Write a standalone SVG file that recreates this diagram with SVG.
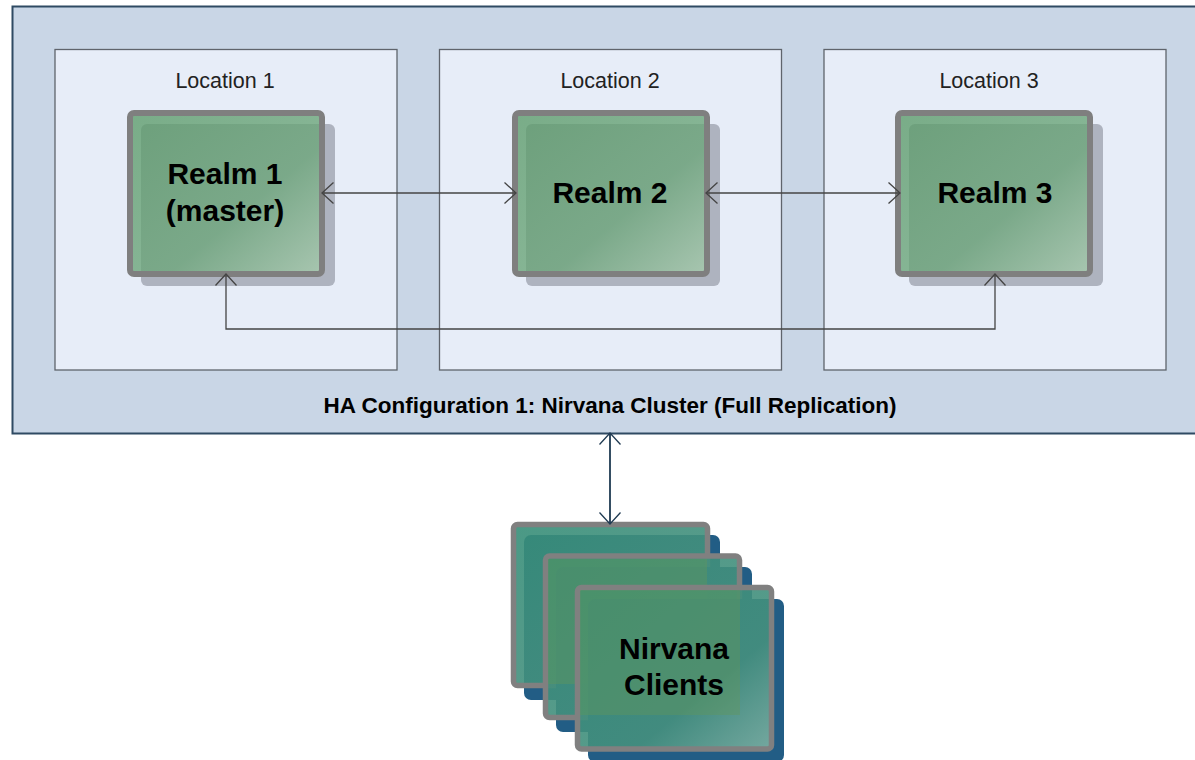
<svg xmlns="http://www.w3.org/2000/svg" width="1195" height="760" viewBox="0 0 1195 760">
<defs>
<linearGradient id="realm" x1="0" y1="0" x2="1" y2="1"><stop offset="0" stop-color="#5a9a68"/><stop offset="0.6" stop-color="#6ca67a"/><stop offset="1" stop-color="#a6cbac"/></linearGradient>
<linearGradient id="client" x1="0" y1="0" x2="1" y2="1"><stop offset="0" stop-color="#378e78"/><stop offset="0.65" stop-color="#45907e"/><stop offset="1" stop-color="#7db0a2"/></linearGradient>
<marker id="open" viewBox="0 0 14 24" refX="13" refY="12" markerWidth="14" markerHeight="24" markerUnits="userSpaceOnUse" orient="auto-start-reverse"><path d="M1.500 1.500L13 12L1.500 22.500" fill="none" stroke="context-stroke" stroke-width="1.300"/></marker>
</defs>
<style>
text{font-family:"Liberation Sans",Arial,sans-serif;text-anchor:middle;fill:#000}
.loc{fill:#e7edf8;stroke:#5f646c;stroke-width:1.3}
.lbl{font-size:21.500px;fill:#222}
.big{font-size:30px;font-weight:bold}
.rs{fill:#aeb3bf}
.rb{fill:url(#realm);fill-opacity:.78;stroke:#7f7f7f;stroke-width:6}
.cs{fill:#225d85}
.cb{fill:url(#client);fill-opacity:.9;stroke:#808080;stroke-width:5.500}
.tint{fill:#62955a;fill-opacity:.42}
.conn{fill:none;stroke:#444;stroke-width:1.300;marker-start:url(#open);marker-end:url(#open)}
</style>
<g id="cluster">
<rect x="12.500" y="6.500" width="1190" height="427" fill="#c9d6e6" stroke="#2f4a63" stroke-width="2"/>
<text x="610" y="413" style="font-size:22.500px;font-weight:bold">HA Configuration 1: Nirvana Cluster (Full Replication)</text>
</g>
<g id="location1"><rect class="loc" x="55" y="49.500" width="342" height="320.500"/><text class="lbl" x="225" y="88">Location 1</text></g>
<g id="location2"><rect class="loc" x="439.500" y="49.500" width="342" height="320.500"/><text class="lbl" x="610" y="88">Location 2</text></g>
<g id="location3"><rect class="loc" x="824" y="49.500" width="342" height="320.500"/><text class="lbl" x="989" y="88">Location 3</text></g>
<g id="realm1">
<rect class="rs" x="141" y="124" width="194" height="162" rx="6"/>
<rect class="rb" x="130" y="113" width="192" height="161" rx="4"/>
<text class="big" x="225" y="184">Realm 1</text>
<text class="big" x="225" y="221">(master)</text>
</g>
<g id="realm2">
<rect class="rs" x="526" y="124" width="194" height="162" rx="6"/>
<rect class="rb" x="515" y="113" width="192" height="161" rx="4"/>
<text class="big" x="610" y="203">Realm 2</text>
</g>
<g id="realm3">
<rect class="rs" x="909" y="124" width="194" height="162" rx="6"/>
<rect class="rb" x="898" y="113" width="192" height="161" rx="4"/>
<text class="big" x="995" y="203">Realm 3</text>
</g>
<g id="clients">
<rect class="cs" x="524" y="535" width="196" height="165" rx="7"/>
<rect class="cb" x="513.500" y="524.500" width="194" height="161" rx="4"/>
<rect class="cs" x="556" y="567" width="196" height="165" rx="7"/>
<rect class="cb" x="545.500" y="556" width="194" height="161.500" rx="4"/>
<rect class="tint" x="548" y="559" width="159" height="125"/>
<rect class="cs" x="588" y="599" width="196" height="163" rx="7"/>
<rect class="cb" x="577.500" y="587.500" width="194" height="161.500" rx="4"/>
<rect class="tint" x="580" y="590" width="160" height="125"/>
<text class="big" x="674" y="659">Nirvana</text>
<text class="big" x="674" y="695">Clients</text>
</g>
<g id="connectors">
<path class="conn" d="M322 193H516"/>
<path class="conn" d="M706 193H900"/>
<path class="conn" d="M226 274V329H995V274"/>
<path class="conn" style="stroke:#1f3a52;stroke-width:1.800" d="M610 433V524"/>
</g>
</svg>
